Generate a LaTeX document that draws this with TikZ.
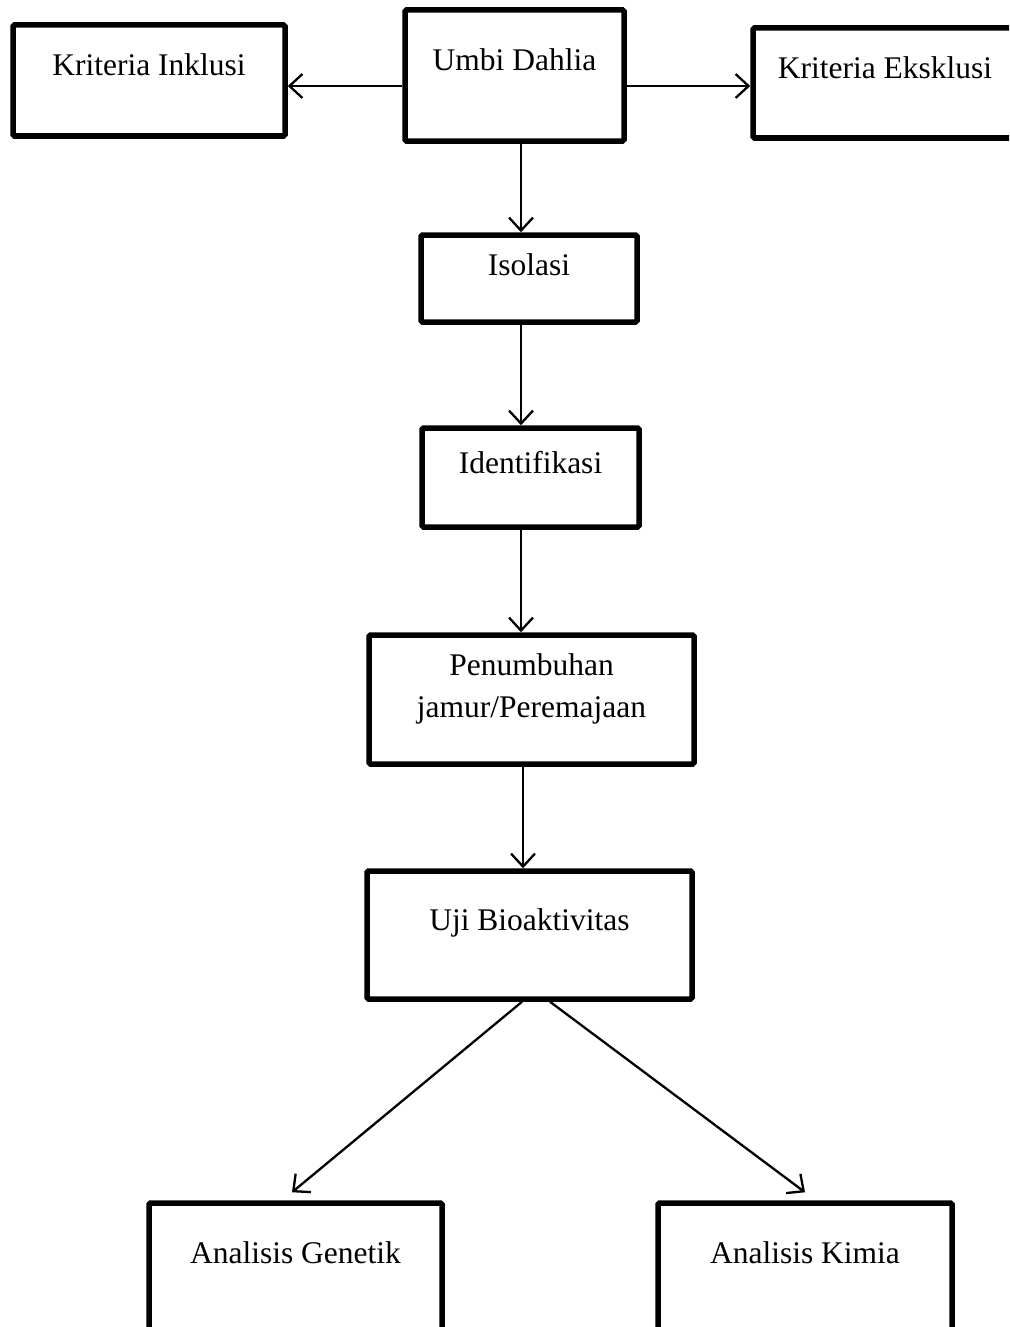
\documentclass[tikz,border=0pt]{standalone}
\usepackage{fontspec}
\setmainfont{Liberation Serif}
\usetikzlibrary{arrows.meta}
\begin{document}
\begin{tikzpicture}[x=1pt,y=-1pt,
  box/.style={draw, line width=5.5pt, rounded corners=1.5pt, inner sep=0pt},
  txt/.style={font=\fontsize{31.5}{42}\selectfont, inner sep=0pt, align=center},
  arr/.style={line width=2.3pt, -{Straight Barb[length=13pt,width=24pt]}}]
\useasboundingbox (0,0) rectangle (1009,1327);
\fill[white] (0,0) rectangle (1009,1327);
\clip (0,0) rectangle (1009,1327);

% boxes
\node[box, minimum width=272pt, minimum height=111pt] (inkl) at (149,80.5) {};
\node[box, minimum width=219pt, minimum height=131pt] (umbi) at (514.5,75.5) {};
\node[box, minimum width=264pt, minimum height=110pt] (ekskl) at (885,83) {};
\node[box, minimum width=216pt, minimum height=87pt] (isol) at (529,278.5) {};
\node[box, minimum width=217pt, minimum height=99pt] (ident) at (530.5,477.5) {};
\node[box, minimum width=325pt, minimum height=129pt] (penum) at (531.5,699.5) {};
\node[box, minimum width=325pt, minimum height=128pt] (uji) at (529.5,935) {};
\node[box, minimum width=293pt, minimum height=137pt] (gen) at (295.5,1271.5) {};
\node[box, minimum width=294pt, minimum height=137pt] (kim) at (805,1271.5) {};

% texts
\node[txt, anchor=base] (inklT) at (149,76) {Kriteria Inklusi};
\node[txt, anchor=base] (umbiT) at (514.5,71) {Umbi Dahlia};
\node[txt, anchor=base] (eksklT) at (885,79) {Kriteria Eksklusi};
\node[txt, anchor=base] (isolT) at (529,275.5) {Isolasi};
\node[txt, anchor=base] (identT) at (530.5,473) {Identifikasi};
\node[txt, anchor=north] (penumT) at (531.5,653.5) {Penumbuhan\\jamur/Peremajaan};
\node[txt, anchor=base] (ujiT) at (529.5,930) {Uji Bioaktivitas};
\node[txt, anchor=base] (genT) at (295.5,1263) {Analisis Genetik};
\node[txt, anchor=base] (kimT) at (805,1263) {Analisis Kimia};

% helper coordinates
\coordinate (rowY) at (0,86);
\coordinate (colX) at (521,0);
\coordinate (colX2) at (523,0);

% connectors
\draw[arr] (umbi.west |- rowY) -- (inkl.east |- rowY);
\draw[arr] (umbi.east |- rowY) -- (ekskl.west |- rowY);
\draw[arr] (umbi.south -| colX) -- (isol.north -| colX);
\draw[arr] (isol.south -| colX) -- (ident.north -| colX);
\draw[arr] (ident.south -| colX) -- (penum.north -| colX);
\draw[arr] (penum.south -| colX2) -- (uji.north -| colX2);
\draw[arr] ([xshift=-7.5pt]uji.south) -- ([xshift=-3.5pt,yshift=8pt]gen.north);
\draw[arr] ([xshift=20.5pt]uji.south) -- ([yshift=8pt]kim.north);
\end{tikzpicture}
\end{document}
